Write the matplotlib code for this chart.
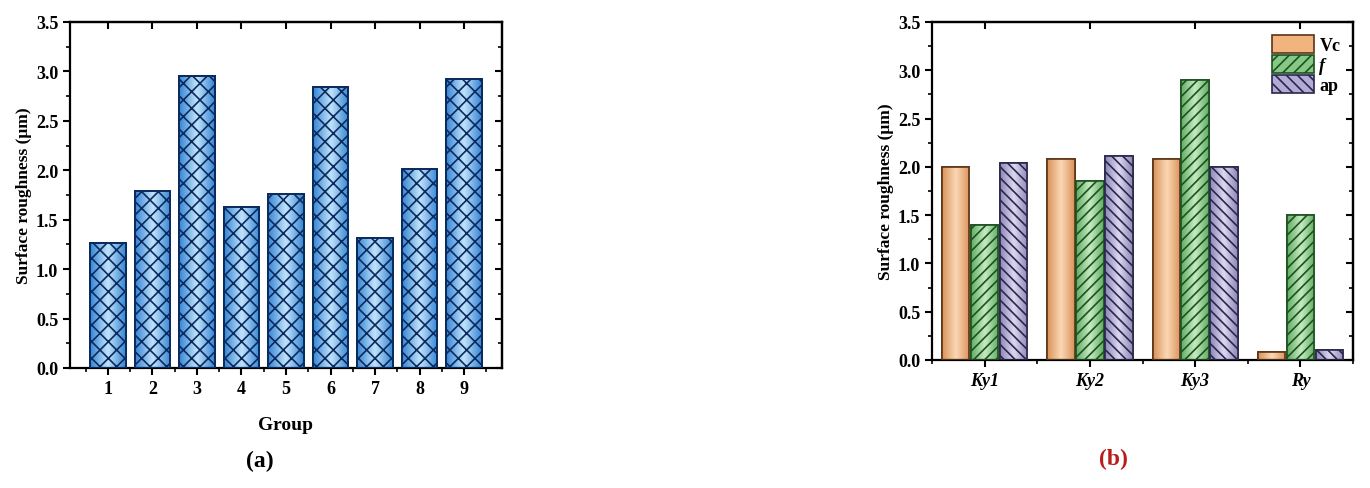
import matplotlib
matplotlib.use("Agg")
import matplotlib.pyplot as plt
import numpy as np
from matplotlib.colors import LinearSegmentedColormap
from matplotlib.ticker import MultipleLocator

plt.rcParams["font.family"] = ["Liberation Serif", "DejaVu Serif"]
plt.rcParams["font.weight"] = "bold"
plt.rcParams["hatch.linewidth"] = 1.2

# panel (a)
groups = ["1", "2", "3", "4", "5", "6", "7", "8", "9"]
roughness_a = [1.26, 1.79, 2.95, 1.63, 1.76, 2.84, 1.31, 2.01, 2.92]

# panel (b)
factors = ["Ky1", "Ky2", "Ky3", "Ry"]
vc_vals = [2.00, 2.08, 2.08, 0.08]
f_vals = [1.40, 1.85, 2.90, 1.50]
ap_vals = [2.04, 2.11, 2.00, 0.10]
series_names = ["Vc", "f", "ap"]


def gradient_fill(ax, bars, dark, light):
    # horizontal light-in-the-middle shading, clipped to each bar
    cmap = LinearSegmentedColormap.from_list("g", [dark, light, dark])
    grad = np.linspace(0, 1, 64).reshape(1, -1)
    for b in bars:
        x, y = b.get_x(), b.get_y()
        w, h = b.get_width(), b.get_height()
        im = ax.imshow(grad, cmap=cmap, aspect="auto", extent=(x, x + w, y, y + h),
                       zorder=b.get_zorder() + 0.1, interpolation="bicubic")
        im.set_clip_path(b)


def style_axes(ax, xlim):
    ax.set_ylim(0, 3.5)
    ax.set_xlim(*xlim)
    ax.yaxis.set_major_locator(MultipleLocator(0.5))
    ax.yaxis.set_minor_locator(MultipleLocator(0.25))
    ax.tick_params(axis="both", which="major", direction="out", length=5, width=1.5, labelsize=13)
    ax.tick_params(axis="both", which="minor", direction="out", length=3, width=1.2)
    for s in ax.spines.values():
        s.set_linewidth(1.6)
    # inward ticks on the top and right frame
    top = ax.secondary_xaxis("top")
    top.tick_params(direction="in", length=5, width=1.5, labelsize=0)
    top.set_xticks(ax.get_xticks())
    top.set_xticklabels([])
    right = ax.secondary_yaxis("right")
    right.yaxis.set_major_locator(MultipleLocator(0.5))
    right.yaxis.set_minor_locator(MultipleLocator(0.25))
    right.tick_params(which="major", direction="in", length=5, width=1.5)
    right.tick_params(which="minor", direction="in", length=3, width=1.2)
    right.set_yticklabels([])
    for s in list(top.spines.values()) + list(right.spines.values()):
        s.set_linewidth(1.6)
    for lab in ax.get_yticklabels():
        lab.set_fontweight("bold")


fig = plt.figure(figsize=(13.7, 4.89), dpi=100)

# ---- (a) ----
ax1 = fig.add_axes([0.0511, 0.2454, 0.3153, 0.7076])
x1 = np.arange(1, len(groups) + 1)
bars = ax1.bar(x1, roughness_a, width=0.8, color="#4c9be0", edgecolor="#0b2b5e", linewidth=1.4, zorder=2)
gradient_fill(ax1, bars, "#3585d4", "#c2e3fb")
ax1.bar(x1, roughness_a, width=0.8, color="none", edgecolor="#0b2b5e", hatch="xx", linewidth=1.4, zorder=3)
ax1.set_xticks(x1)
ax1.set_xticklabels(groups, fontweight="bold")
ax1.xaxis.set_minor_locator(MultipleLocator(0.5))
style_axes(ax1, (0.15, 9.85))
ax1.set_ylabel("Surface roughness (μm)", fontsize=12.5, fontweight="bold", labelpad=3)
ax1.set_xlabel("Group", fontsize=14, fontweight="bold", labelpad=14)
fig.text(0.19, 0.045, "(a)", fontsize=17, fontweight="bold", ha="center")

# ---- (b) ----
ax2 = fig.add_axes([0.6803, 0.2618, 0.3073, 0.6912])
x2 = np.arange(len(factors))
w = 0.26
off = 0.275
colors = [("#f2b47e", "#5a3418", "#d9925a", "#fbd8b6", None),
          ("#86c985", "#1f4f22", "#5fae62", "#c7ecc2", "///"),
          ("#b3abd6", "#28284a", "#8f87b8", "#ddd8f0", "\\\\\\")]
handles = []
for i, (vals, name) in enumerate(zip([vc_vals, f_vals, ap_vals], series_names)):
    fc, ec, dark, light, hatch = colors[i]
    pos = x2 + (i - 1) * off
    b = ax2.bar(pos, vals, width=w, color=fc, edgecolor=ec, linewidth=1.2, zorder=2)
    gradient_fill(ax2, b, dark, light)
    ax2.bar(pos, vals, width=w, color="none", edgecolor=ec, hatch=hatch, linewidth=1.2, zorder=3)
    handles.append(plt.Rectangle((0, 0), 1, 1, facecolor=fc, edgecolor=ec, hatch=hatch, linewidth=1.2))
ax2.set_xticks(x2)
ax2.set_xticklabels(factors, fontstyle="italic", fontweight="bold")
ax2.xaxis.set_minor_locator(MultipleLocator(0.5))
style_axes(ax2, (-0.5, 3.5))
ax2.set_ylabel("Surface roughness (μm)", fontsize=12.5, fontweight="bold", labelpad=3)
leg = ax2.legend(handles, series_names, loc="upper right", frameon=False, fontsize=13,
                 handlelength=2.3, handleheight=1.15, handletextpad=0.3, labelspacing=0.05,
                 borderaxespad=0.5, borderpad=0.2)
leg.get_texts()[1].set_fontstyle("italic")
fig.text(0.8125, 0.05, "(b)", fontsize=17, fontweight="bold", ha="center", color="#b81c1c")

fig.savefig("out.png", dpi=100)
